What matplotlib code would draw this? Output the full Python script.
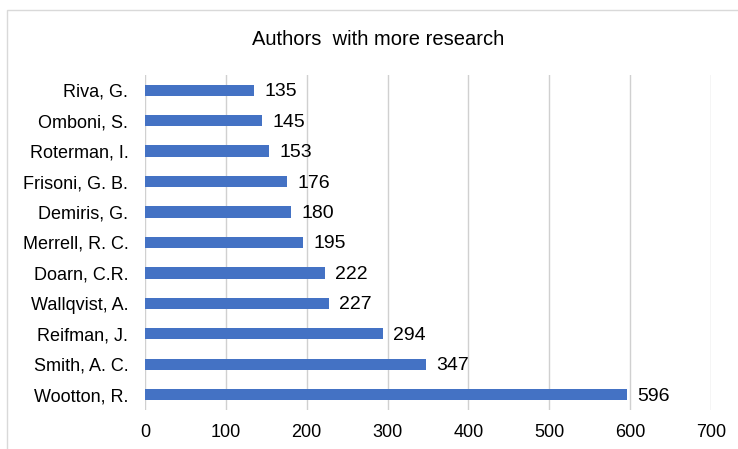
import matplotlib.pyplot as plt
from matplotlib.patches import Rectangle

authors = ['Wootton, R.', 'Smith, A. C.', 'Reifman, J.', 'Wallqvist, A.', 'Doarn, C.R.',
           'Merrell, R. C.', 'Demiris, G.', 'Frisoni, G. B.', 'Roterman, I.', 'Omboni, S.', 'Riva, G.']
counts = [596, 347, 294, 227, 222, 195, 180, 176, 153, 145, 135]
xticks = [0, 100, 200, 300, 400, 500, 600, 700]

plt.rcParams['font.family'] = ['Liberation Sans', 'DejaVu Sans']

fig = plt.figure(figsize=(7.38, 4.49), dpi=100)
ax = fig.add_axes([0.1965, 0.087, 0.767, 0.746])

pos = list(range(len(authors)))
ax.barh(pos, counts, height=0.37, color='#4472C4', zorder=3)
for y, v in zip(pos, counts):
    ax.text(v + 13, y - 0.05, str(v), va='center', ha='left', fontsize=14, color='#000000')

ax.set_xlim(0, 700)
ax.set_ylim(-0.5, len(authors) - 0.5)
ax.set_xticks(xticks)
ax.set_yticks(pos)
ax.set_yticklabels(authors)
ax.tick_params(axis='both', length=0, labelsize=13, colors='#000000')
ax.tick_params(axis='y', pad=12)
ax.tick_params(axis='x', pad=10)
ax.xaxis.grid(True, color='#D0D0D0', linewidth=1)
for s in ax.spines.values():
    s.set_visible(False)

fig.text(0.512, 0.913, 'Authors  with more research', ha='center', va='center', fontsize=14.5)

# chart frame, cut off at the right and bottom edges
fig.patches.append(Rectangle((0.0095, -0.05), 1.1, 1.028, transform=fig.transFigure,
                             fill=False, edgecolor='#D9D9D9', linewidth=1))

fig.savefig('out.png', dpi=100)
